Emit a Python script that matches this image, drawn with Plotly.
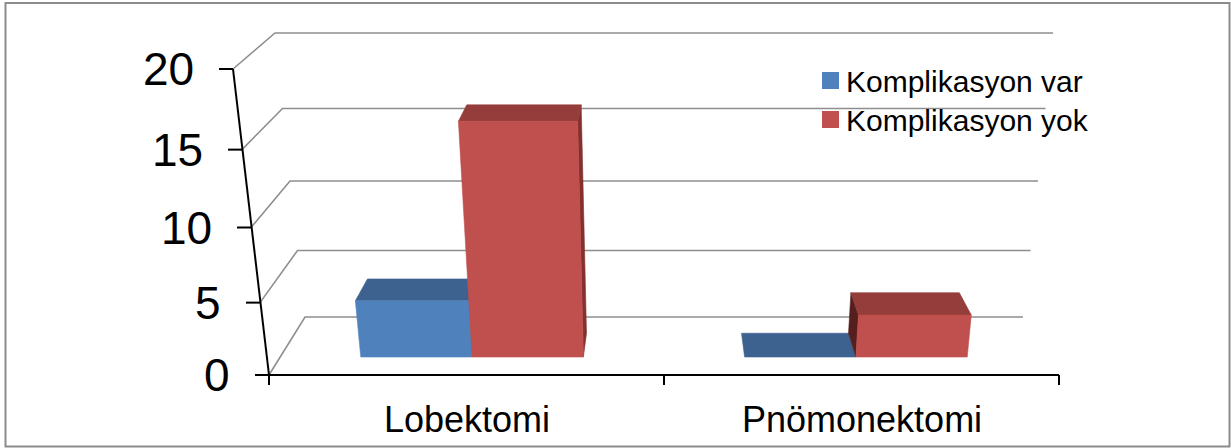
import plotly.graph_objects as go

# ---- data ----
categories = ["Lobektomi", "Pnömonektomi"]
series_names = ["Komplikasyon var", "Komplikasyon yok"]
komplikasyon_var = [4, 0]
komplikasyon_yok = [16, 3]
y_ticks = [0, 5, 10, 15, 20]

# ---- styling ----
W, H = 1231, 448
FONT = "Liberation Sans, Arial, sans-serif"
FRONT = ["#4F81BD", "#C0504D"]
TOP = ["#3D628F", "#943D3A"]
SIDE_R = ["#34557C", "#83312F"]
SIDE_L = ["#2A4566", "#561F1E"]
GRID = "#8E8E8E"

# ---- simple perspective box: u in [-1, 1] across the categories,
#      v = value, z in [0, 1] from the front plane to the back wall ----
CX = 664.0


def half_width(v, z):
    front = 395.0 + 1.8 * v
    back = 359.0 + 1.5 * v
    return front + (back - front) * z


def y_pix(v, z):
    front = 375.0 - 14.2 * v - 0.055 * v * v
    back = 317.0 - 13.0 * v - 0.06 * v * v
    return front + (back - front) * z


def project(u, v, z):
    return CX + u * half_width(v, z), y_pix(v, z)


def poly(points):
    xs, ys = [], []
    for (u, v, z) in points:
        x, y = project(u, v, z)
        xs.append(x)
        ys.append(y)
    xs.append(xs[0])
    ys.append(ys[0])
    return xs, ys


fig = go.Figure()


def add_face(points, color):
    xs, ys = poly(points)
    fig.add_trace(go.Scatter(
        x=xs, y=ys, mode="lines", fill="toself", fillcolor=color,
        line=dict(color=color, width=0.6), hoverinfo="skip", showlegend=False))


def add_line(points, color, width):
    xs, ys = [], []
    for (u, v, z) in points:
        x, y = project(u, v, z)
        xs.append(x)
        ys.append(y)
    fig.add_trace(go.Scatter(
        x=xs, y=ys, mode="lines", line=dict(color=color, width=width),
        hoverinfo="skip", showlegend=False))


# back wall and left wall gridlines
for t in y_ticks:
    add_line([(-1, t, 0), (-1, t, 1), (1, t, 1)], GRID, 1.6)

# bars
BAR_W = 0.29
Z0, Z1 = 0.31, 0.72
values = [komplikasyon_var, komplikasyon_yok]
for i, cat in enumerate(categories):
    uc = -0.5 + i
    for j in range(len(series_names)):
        v = values[j][i]
        u0 = uc - BAR_W + BAR_W * j
        u1 = u0 + BAR_W
        # visible side face (towards the centre of view)
        if v > 0:
            if u1 < 0:
                add_face([(u1, 0, Z0), (u1, 0, Z1), (u1, v, Z1), (u1, v, Z0)], SIDE_R[j])
            elif u0 > 0:
                add_face([(u0, 0, Z0), (u0, 0, Z1), (u0, v, Z1), (u0, v, Z0)], SIDE_L[j])
        # top face
        add_face([(u0, v, Z0), (u1, v, Z0), (u1, v, Z1), (u0, v, Z1)], TOP[j])
        # front face
        if v > 0:
            add_face([(u0, 0, Z0), (u1, 0, Z0), (u1, v, Z0), (u0, v, Z0)], FRONT[j])

# value axis (front left edge) with ticks
add_line([(-1, 0, 0), (-1, y_ticks[-1], 0)], "#000000", 2)
annotations = []
for t in y_ticks:
    x, y = project(-1, t, 0)
    fig.add_trace(go.Scatter(x=[x - 14, x], y=[y, y], mode="lines",
                             line=dict(color="#000000", width=2),
                             hoverinfo="skip", showlegend=False))
    annotations.append(dict(x=x - 37, y=y, text=str(t), showarrow=False,
                            xanchor="right", yanchor="middle",
                            font=dict(family=FONT, size=46, color="#000000")))

# category axis (front bottom edge) with ticks
add_line([(-1, 0, 0), (1, 0, 0)], "#000000", 2)
for u in [-1, 0, 1]:
    x, y = project(u, 0, 0)
    fig.add_trace(go.Scatter(x=[x, x], y=[y, y + 10], mode="lines",
                             line=dict(color="#000000", width=2),
                             hoverinfo="skip", showlegend=False))
for i, cat in enumerate(categories):
    x, y = project(-0.5 + i, 0, 0)
    annotations.append(dict(x=x, y=y + 44, text=cat, showarrow=False,
                            xanchor="center", yanchor="middle",
                            font=dict(family=FONT, size=36, color="#000000")))

# legend
LEG_X, LEG_Y, LEG_DY = 830.5, 80.5, 39
for j, name in enumerate(series_names):
    fig.add_trace(go.Scatter(x=[LEG_X], y=[LEG_Y + j * LEG_DY], mode="markers",
                             marker=dict(symbol="square", size=17, color=FRONT[j],
                                         line=dict(width=0)),
                             hoverinfo="skip", showlegend=False))
    annotations.append(dict(x=LEG_X + 13, y=LEG_Y + j * LEG_DY + 1, text=name,
                            showarrow=False, xanchor="left", yanchor="middle",
                            font=dict(family=FONT, size=30, color="#000000")))

fig.update_layout(
    width=W, height=H,
    margin=dict(l=0, r=0, t=0, b=0),
    paper_bgcolor="#FFFFFF", plot_bgcolor="#FFFFFF",
    xaxis=dict(range=[0, W], visible=False, fixedrange=True),
    yaxis=dict(range=[H, 0], visible=False, fixedrange=True),
    annotations=annotations,
    shapes=[dict(type="rect", xref="x", yref="y", x0=5.5, y0=3, x1=1229.5, y1=446.5,
                 line=dict(color="#8C8C8C", width=2), layer="above")],
    showlegend=False,
)

fig.write_html("out.html")
